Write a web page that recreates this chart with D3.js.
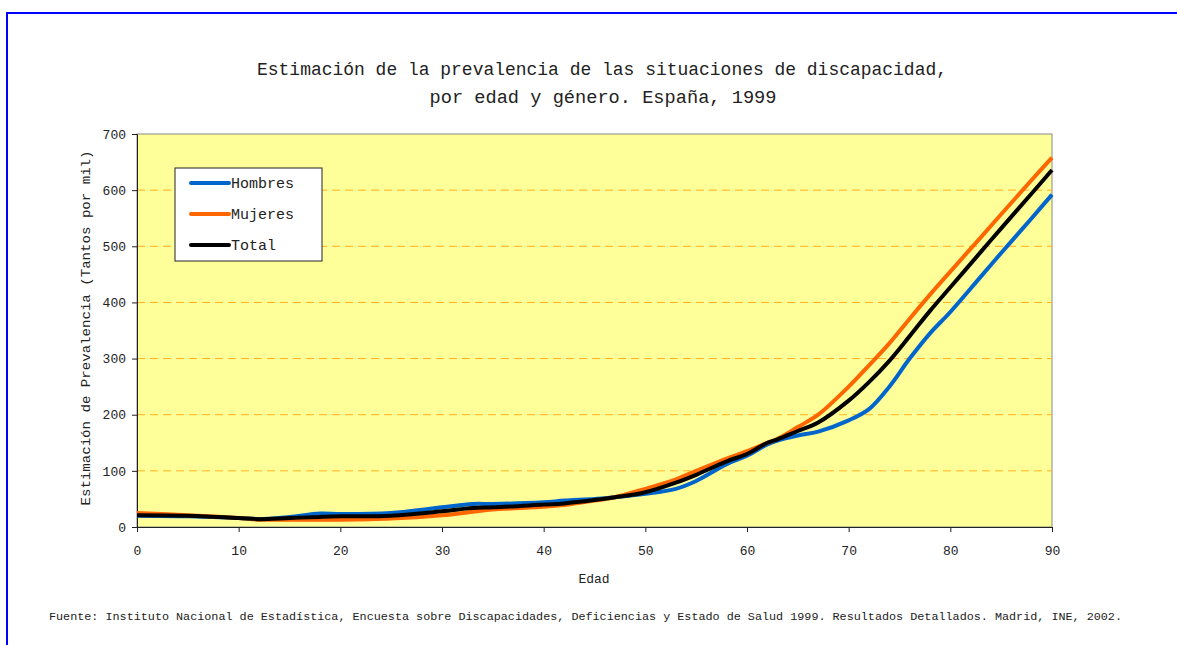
<!doctype html>
<html lang="en">
<head>
<meta charset="utf-8">
<title>Prevalencia de discapacidad, 1999</title>
<style>
body { margin: 0; background: #fff; }
text { font-family: "Liberation Mono", "Courier New", monospace; fill: #222; }
</style>
</head>
<body>
<div id="chart"></div>
<script src="https://cdnjs.cloudflare.com/ajax/libs/d3/7.8.5/d3.min.js"></script>
<script>
var ages = [0,5,10,12,15,18,20,25,30,33,35,40,42,45,47,50,53,55,58,60,62,63,65,67,70,72,74,76,78,80,83,85,88,90];
var hombres = [20,19,16,14,18,24,23,25,35,41,41,44,47,50,53,59,68,82,112,127,147,154,163,170,190,210,250,300,345,383,446,488,550,592];
var mujeres = [25,21,16,13,13,13,13,15,21,27,31,36,39,47,53,68,85,100,122,135,150,157,178,200,250,288,327,371,414,455,516,557,618,658];
var total = [21,20,16,14,16,18,19,20,28,34,35,40,42,48,53,62,79,93,117,130,150,156,171,186,225,258,296,340,385,427,490,532,594,636];

var seriesNames = ["Hombres", "Mujeres", "Total"];
var seriesColors = ["#0066cc", "#ff6600", "#000000"];
var xTicks = [0,10,20,30,40,50,60,70,80,90];
var yTicks = [0,100,200,300,400,500,600,700];

var W = 1177, H = 645;
var svg = d3.select("#chart").append("svg").attr("width", W).attr("height", H);

// outer blue frame
svg.append("rect").attr("x", 7).attr("y", 13).attr("width", 1300).attr("height", 800)
    .style("fill", "none").style("stroke", "#0000ff").style("stroke-width", 2);

// plot box (don't call it "top", window.top is read-only)
var pLeft = 137, pRight = 1052, pTop = 134, pBottom = 527;
var x = d3.scaleLinear().domain([0, 90]).range([pLeft, pRight]);
var y = d3.scaleLinear().domain([0, 700]).range([pBottom, pTop]);

svg.append("rect").attr("x", pLeft).attr("y", pTop).attr("width", pRight - pLeft).attr("height", pBottom - pTop)
    .style("fill", "#ffff99").style("stroke", "#888").style("stroke-width", 1);

// grid
svg.selectAll(".grid").data(yTicks.filter(function(d) { return d > 0 && d < 700; }))
    .enter().append("line")
    .attr("x1", pLeft).attr("x2", pRight)
    .attr("y1", function(d) { return y(d); }).attr("y2", function(d) { return y(d); })
    .style("stroke", "#ffb020").style("stroke-dasharray", "8,5").style("stroke-width", 1);

// axes
var yAxis = d3.axisLeft(y).tickValues(yTicks).tickSize(5).tickPadding(6);
var gy = svg.append("g").attr("transform", "translate(" + pLeft + ",0)").call(yAxis);
var xAxis = d3.axisBottom(x).tickValues(xTicks).tickSize(5).tickPadding(14);
var gx = svg.append("g").attr("transform", "translate(0," + pBottom + ")").call(xAxis);
[gx, gy].forEach(function(g) {
    g.select(".domain").style("stroke", "#222");
    g.selectAll(".tick line").style("stroke", "#222");
    g.selectAll("text").style("font-family", "'Liberation Mono', monospace")
        .style("font-size", "13px").style("fill", "#222");
});

// lines
var data = [hombres, mujeres, total];
var line = d3.line()
    .x(function(d, i) { return x(ages[i]); })
    .y(function(d) { return y(d); })
    .curve(d3.curveCatmullRom.alpha(0.5));
svg.selectAll(".serie").data(data).enter().append("path")
    .attr("d", line)
    .style("fill", "none")
    .style("stroke", function(d, i) { return seriesColors[i]; })
    .style("stroke-width", 4)
    .style("stroke-linejoin", "round");

// legend
var lg = svg.append("g");
lg.append("rect").attr("x", 175).attr("y", 168).attr("width", 147).attr("height", 93)
    .style("fill", "#fff").style("stroke", "#222").style("stroke-width", 1);
seriesNames.forEach(function(n, i) {
    var ly = 183 + i * 31;
    lg.append("line").attr("x1", 191).attr("x2", 229).attr("y1", ly).attr("y2", ly)
        .style("stroke", seriesColors[i]).style("stroke-width", 4).style("stroke-linecap", "round");
    lg.append("text").attr("x", 231).attr("y", ly + 5).style("font-size", "15px").text(n);
});

// titles
svg.append("text").attr("x", 602).attr("y", 75).attr("text-anchor", "middle")
    .style("font-size", "18px")
    .attr("textLength", 690).attr("lengthAdjust", "spacingAndGlyphs")
    .text("Estimación de la prevalencia de las situaciones de discapacidad,");
svg.append("text").attr("x", 603).attr("y", 103).attr("text-anchor", "middle")
    .style("font-size", "18px")
    .attr("textLength", 347).attr("lengthAdjust", "spacingAndGlyphs")
    .text("por edad y género. España, 1999");

svg.append("text").attr("x", 594).attr("y", 583).attr("text-anchor", "middle")
    .style("font-size", "13px").text("Edad");

svg.append("text").attr("transform", "translate(90,328) rotate(-90)").attr("text-anchor", "middle")
    .style("font-size", "13px")
    .attr("textLength", 355).attr("lengthAdjust", "spacingAndGlyphs")
    .text("Estimación de Prevalencia (Tantos por mil)");

svg.append("text").attr("x", 49).attr("y", 620)
    .style("font-size", "11px")
    .attr("textLength", 1073).attr("lengthAdjust", "spacingAndGlyphs")
    .text("Fuente: Instituto Nacional de Estadística, Encuesta sobre Discapacidades, Deficiencias y Estado de Salud 1999. Resultados Detallados. Madrid, INE, 2002.");
</script>
</body>
</html>
